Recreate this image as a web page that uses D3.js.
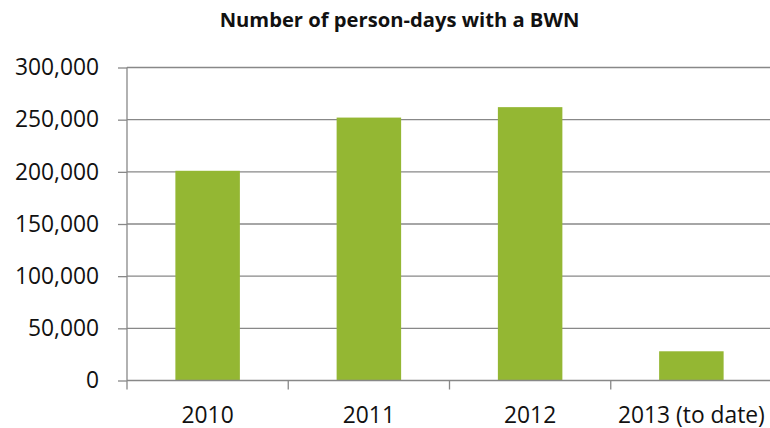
<!DOCTYPE html>
<html>
<head>
<meta charset="utf-8">
<script src="https://cdn.jsdelivr.net/npm/d3@7"></script>
<style>
  body { margin: 0; background: #fff; }
  svg { display: block; }
</style>
</head>
<body>
<svg id="chart"></svg>
<script>
const years = ["2010", "2011", "2012", "2013 (to date)"];
const personDays = [201000, 252000, 262000, 28000];
const yTicks = [0, 50000, 100000, 150000, 200000, 250000, 300000];
const title = "Number of person-days with a BWN";

const width = 770, height = 428;
const margin = { top: 67.5, right: -2, bottom: 47.5, left: 127 };
const font = "'Open Sans', Lato, sans-serif";

const svg = d3.select("#chart").attr("width", width).attr("height", height);

const x = d3.scaleBand()
  .domain(years)
  .range([margin.left, width - margin.right])
  .paddingInner(0.6)
  .paddingOuter(0.3);

const y = d3.scaleLinear()
  .domain([0, 300000])
  .range([height - margin.bottom, margin.top]);

// gridlines
svg.append("g")
  .selectAll("line")
  .data(yTicks.slice(1))
  .join("line")
  .attr("x1", margin.left)
  .attr("x2", width - margin.right)
  .attr("y1", d => y(d))
  .attr("y2", d => y(d))
  .attr("stroke", "#888")
  .attr("stroke-width", 1.3);

// bars
svg.append("g")
  .selectAll("rect")
  .data(years)
  .join("rect")
  .attr("x", d => x(d))
  .attr("width", x.bandwidth())
  .attr("y", (d, i) => y(personDays[i]))
  .attr("height", (d, i) => y(0) - y(personDays[i]))
  .attr("fill", "#94b733");

// y axis
const yAxis = svg.append("g")
  .attr("transform", `translate(${margin.left},0)`)
  .call(d3.axisLeft(y).tickValues(yTicks).tickFormat(d3.format(",")).tickSize(9).tickPadding(19));
yAxis.select(".domain").attr("stroke", "#888").attr("stroke-width", 1.3)
  .attr("d", `M0,${y(0)}V${y(300000)}`);
yAxis.selectAll(".tick line").attr("stroke", "#888").attr("stroke-width", 1.3);
yAxis.selectAll(".tick text").attr("font-family", font).attr("font-size", 22.8).attr("fill", "#111");

// x axis with ticks at band boundaries
const xAxis = svg.append("g").attr("transform", `translate(0,${y(0)})`);
xAxis.append("line")
  .attr("x1", margin.left).attr("x2", width - margin.right)
  .attr("stroke", "#888").attr("stroke-width", 1.3);
const bounds = years.map(d => x(d) - x.step() * 0.3);
xAxis.selectAll(".xtick")
  .data(bounds)
  .join("line")
  .attr("class", "xtick")
  .attr("x1", d => d).attr("x2", d => d)
  .attr("y1", 0).attr("y2", 9)
  .attr("stroke", "#888").attr("stroke-width", 1.3);
xAxis.selectAll("text")
  .data(years)
  .join("text")
  .attr("x", d => x(d) + x.bandwidth() / 2)
  .attr("y", 42)
  .attr("text-anchor", "middle")
  .attr("font-family", font)
  .attr("font-size", 22.8)
  .attr("fill", "#111")
  .text(d => d);

// title
svg.append("text")
  .attr("x", 399.5)
  .attr("y", 27)
  .attr("text-anchor", "middle")
  .attr("font-family", font)
  .attr("font-weight", "bold")
  .attr("font-size", 20.2)
  .attr("fill", "#111")
  .text(title);
</script>
</body>
</html>
